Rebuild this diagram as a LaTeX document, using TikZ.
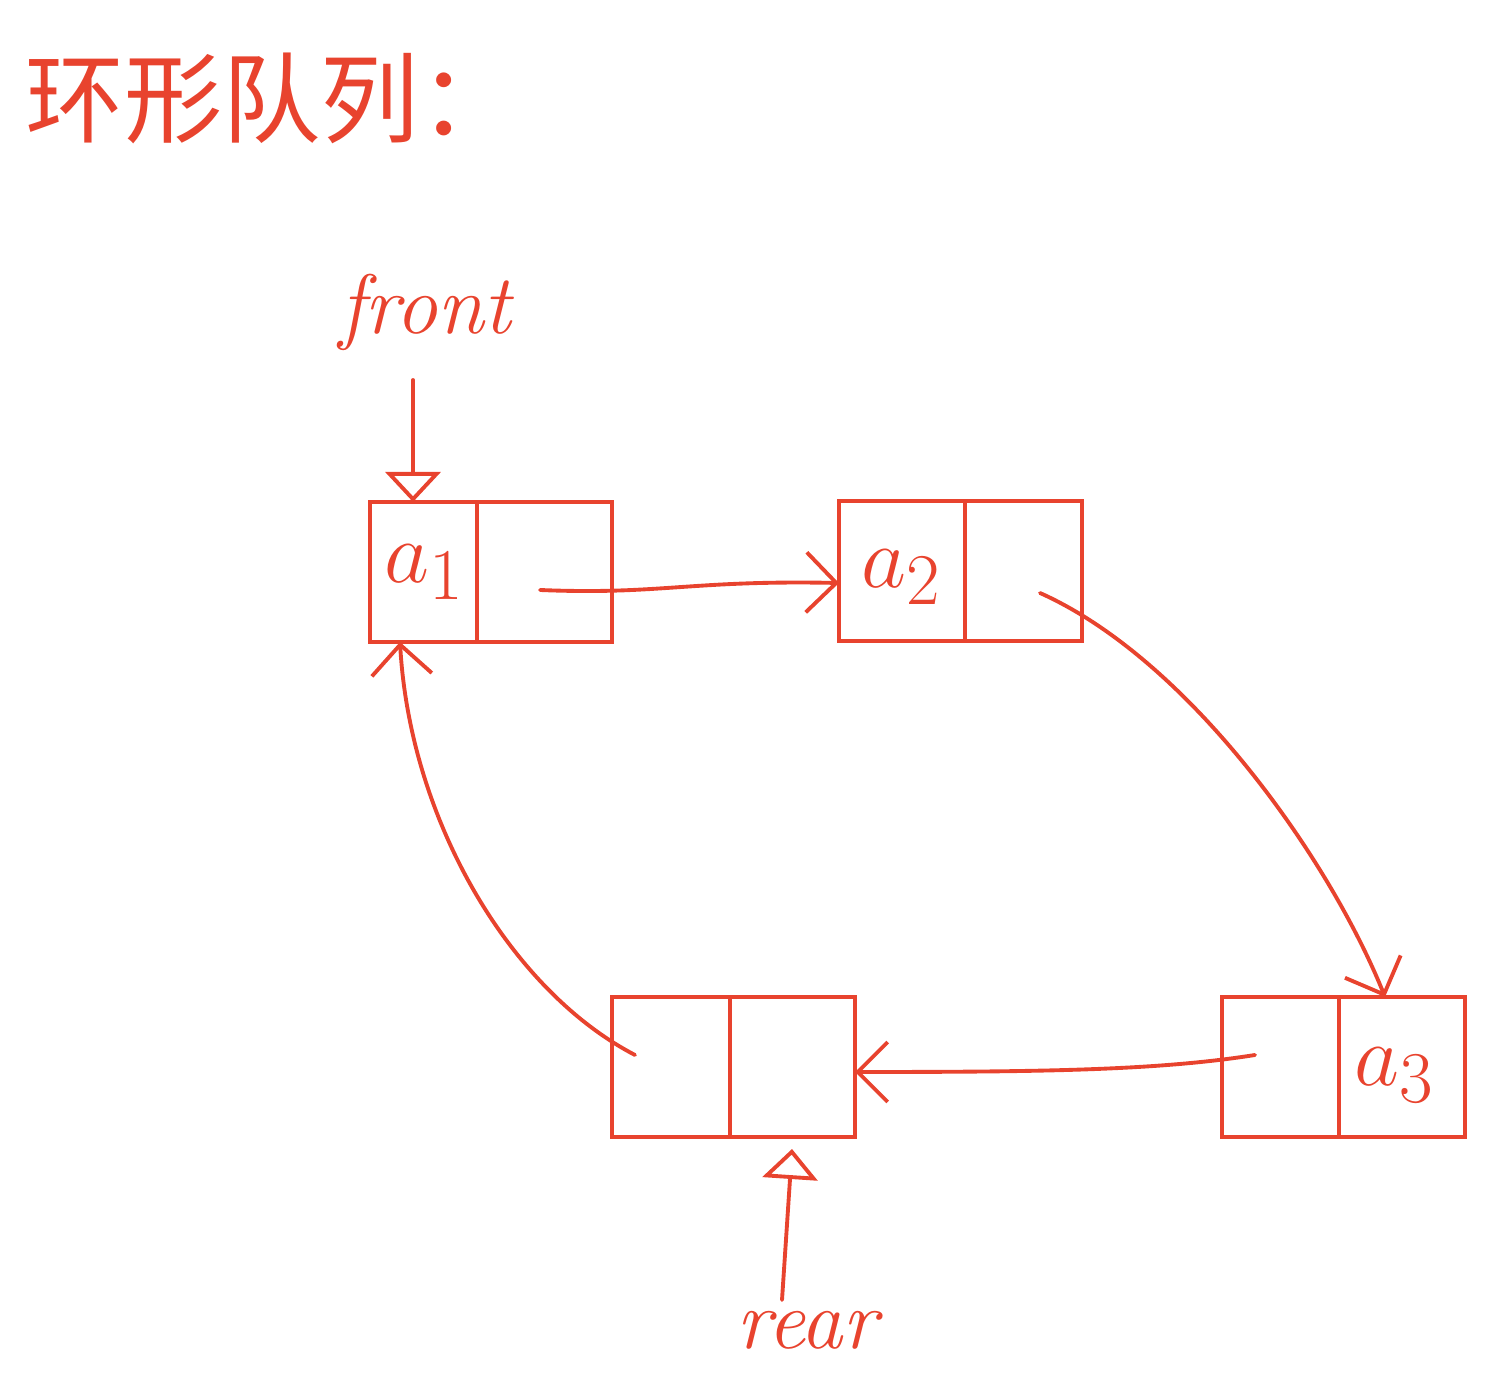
\documentclass[tikz,border=0pt]{standalone}
\usepackage{fontspec}
\newfontfamily\cjk{Noto Sans CJK SC}
\usetikzlibrary{arrows.meta}
\definecolor{ink}{HTML}{E8432E}
\tikzset{
  cell/.style={draw=ink, line width=1.1pt, rectangle, inner sep=0pt, outer sep=0pt, minimum height=1.4cm, anchor=north west},
  link/.style={draw=ink, line width=1.1pt, line cap=round, -{Straight Barb[length=3mm,width=6mm,line width=1.1pt]}},
  pointer/.style={draw=ink, line width=1.1pt, line cap=round, -{Triangle[open,length=3mm,width=5.5mm,line width=1.1pt]}},
  lbl/.style={text=ink, inner sep=0pt, font=\fontsize{28}{30}\selectfont},
  hand/.style={text=ink, inner sep=0pt, font=\fontsize{24}{26}\selectfont\itshape},
}
\begin{document}
\begin{tikzpicture}
\useasboundingbox (0,0) rectangle (15.09,-13.95);
% title
\node[text=ink, anchor=west, inner sep=0pt, font=\cjk\fontsize{28}{30}\selectfont] (title) at (0.25,-0.98) {环形队列：};
% box 1
\node[cell, minimum width=1.07cm] (b1l) at (3.70,-5.02) {};
\node[cell, minimum width=1.35cm] (b1r) at (4.77,-5.02) {};
% box 2
\node[cell, minimum width=1.26cm] (b2l) at (8.39,-5.01) {};
\node[cell, minimum width=1.17cm] (b2r) at (9.65,-5.01) {};
% box 3
\node[cell, minimum width=1.17cm] (b3l) at (12.22,-9.97) {};
\node[cell, minimum width=1.26cm] (b3r) at (13.39,-9.97) {};
% box 4
\node[cell, minimum width=1.18cm] (b4l) at (6.12,-9.97) {};
\node[cell, minimum width=1.25cm] (b4r) at (7.30,-9.97) {};
% labels in cells
\node[lbl] (la1) at (4.25,-5.72) {$a_1$};
\node[lbl] (la2) at (9.02,-5.77) {$a_2$};
\node[lbl] (la3) at (13.95,-10.75) {$a_3$};
% front / rear
\node[hand] (front) at (4.25,-3.12) {front};
\node[hand] (rear) at (8.07,-13.30) {rear};
\coordinate (fs) at (4.13,-3.80);
\coordinate (rs) at (7.82,-13.00);
\draw[pointer] (fs) -- (b1l.north -| fs);
\draw[pointer] (rs) -- ([yshift=-0.12cm]b4r.south -| 7.92,0);
% links
\coordinate (p1) at (5.40,-5.90);
\coordinate (p2) at (10.40,-5.93);
\coordinate (p3) at (12.55,-10.55);
\coordinate (p4) at (6.35,-10.55);
\draw[link] (p1) .. controls (6.6,-5.95) and (6.9,-5.80) .. (b2l.west |- 0,-5.83);
\draw[link] (p2) .. controls (11.9,-6.6) and (13.3,-8.6) .. (b3r.north -| 13.85,0);
\draw[link] (p3) .. controls (11.6,-10.70) and (10.5,-10.72) .. (b4r.east |- 0,-10.72);
\draw[link] (p4) .. controls (5.1,-9.9) and (4.1,-8.2) .. ([xshift=0.3cm]b1l.south west);
\end{tikzpicture}
\end{document}
